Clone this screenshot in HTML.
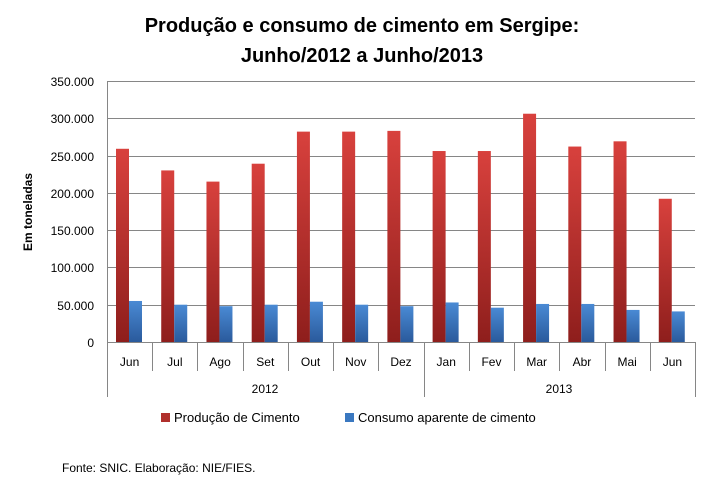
<!DOCTYPE html><html><head><meta charset="utf-8"><style>body{margin:0;background:#fff}</style></head><body>
<svg width="724" height="496" xmlns="http://www.w3.org/2000/svg" font-family="Liberation Sans, sans-serif">
<defs>
<linearGradient id="r" x1="0" y1="0" x2="0" y2="1"><stop offset="0" stop-color="#d8413d"/><stop offset="1" stop-color="#8e1e1c"/></linearGradient>
<linearGradient id="b" x1="0" y1="0" x2="0" y2="1"><stop offset="0" stop-color="#4a8ad4"/><stop offset="1" stop-color="#2a5a9c"/></linearGradient>
</defs>
<text x="362" y="32" text-anchor="middle" font-size="20" font-weight="bold">Produção e consumo de cimento em Sergipe:</text>
<text x="362" y="62" text-anchor="middle" font-size="20" font-weight="bold">Junho/2012 a Junho/2013</text>
<g stroke="#868686" stroke-width="1">
<line x1="107" y1="81.5" x2="695" y2="81.5"/><line x1="107" y1="118.5" x2="695" y2="118.5"/><line x1="107" y1="156.5" x2="695" y2="156.5"/><line x1="107" y1="193.5" x2="695" y2="193.5"/><line x1="107" y1="230.5" x2="695" y2="230.5"/><line x1="107" y1="267.5" x2="695" y2="267.5"/><line x1="107" y1="305.5" x2="695" y2="305.5"/>
</g>
<g font-size="12" text-anchor="end" fill="#000">
<text x="94" y="86">350.000</text><text x="94" y="123">300.000</text><text x="94" y="161">250.000</text><text x="94" y="198">200.000</text><text x="94" y="235">150.000</text><text x="94" y="272">100.000</text><text x="94" y="310">50.000</text><text x="94" y="347">0</text>
</g>
<text transform="translate(32,212) rotate(-90)" text-anchor="middle" font-size="12" font-weight="bold">Em toneladas</text>
<g id="bars"></g>
<g stroke="#868686"><line x1="107" y1="342.5" x2="695" y2="342.5"/><line x1="107.5" y1="81" x2="107.5" y2="397"/></g>
<g id="ax" stroke="#868686"></g>
<g id="lab" font-size="12" text-anchor="middle"></g>
<text x="265" y="393" font-size="12" text-anchor="middle">2012</text>
<text x="559" y="393" font-size="12" text-anchor="middle">2013</text>
<rect x="161" y="413" width="9" height="9" fill="#b0302c"/><text x="174" y="422" font-size="13">Produção de Cimento</text>
<rect x="345" y="413" width="9" height="9" fill="#3a78c0"/><text x="358" y="422" font-size="13">Consumo aparente de cimento</text>
<text x="62" y="472" font-size="12">Fonte: SNIC. Elaboração: NIE/FIES.</text>
</svg>
<script>
var P=[259,230,215,239,282,282,283,256,256,306,262,269,192],C=[55,50,48,50,54,50,48,53,46,51,51,43,41],
M=["Jun","Jul","Ago","Set","Out","Nov","Dez","Jan","Fev","Mar","Abr","Mai","Jun"],ns="http://www.w3.org/2000/svg",w=588/13,s="";
var b="",a="",l="";
for(var i=0;i<13;i++){var x=107+i*w,hp=P[i]*0.746,hc=C[i]*0.746;
b+='<rect x="'+(x+9)+'" y="'+(342-hp)+'" width="13" height="'+hp+'" fill="url(#r)"/>';
b+='<rect x="'+(x+22)+'" y="'+(342-hc)+'" width="13" height="'+hc+'" fill="url(#b)"/>';
var xe=Math.round(x+w)+0.5;a+='<line x1="'+xe+'" y1="342" x2="'+xe+'" y2="'+((i==6||i==12)?397:371)+'"/>';
l+='<text x="'+(x+w/2)+'" y="366">'+M[i]+'</text>';}
document.getElementById("bars").innerHTML=b;document.getElementById("ax").innerHTML=a;document.getElementById("lab").innerHTML=l;
</script>
</body></html>
